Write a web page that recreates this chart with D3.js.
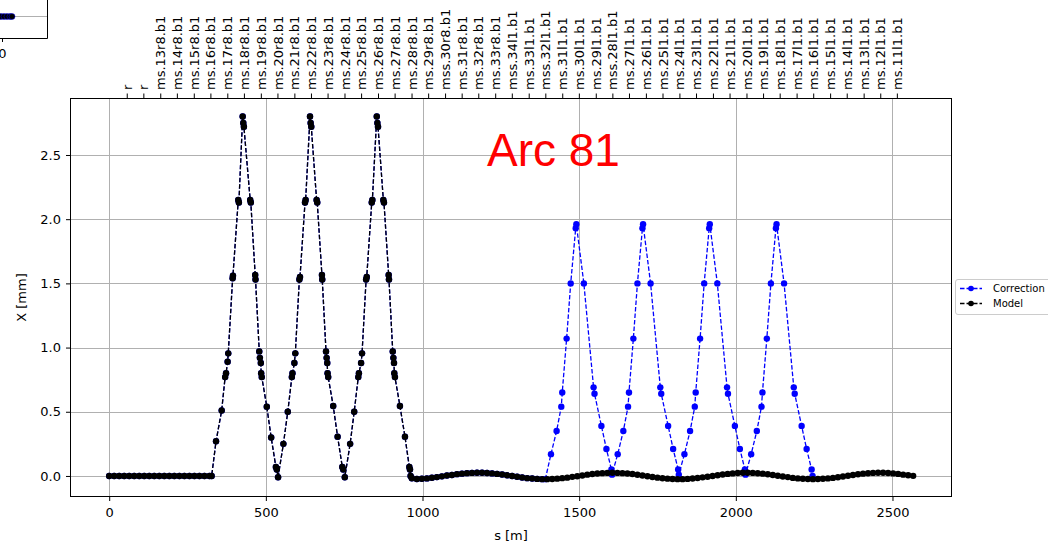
<!DOCTYPE html>
<html><head><meta charset="utf-8">
<script src="https://cdn.jsdelivr.net/npm/d3@7"></script>
<style>
body{margin:0;background:#fff;overflow:hidden}
text{font-family:"DejaVu Sans",sans-serif;fill:#000}
</style>
</head><body>
<svg id="c" width="1048" height="546"></svg>
<script>
// ---------------- data ----------------
const modelS = [0,16,32,48,64,80,96,112,128,144,160,176,192,208,224,240,256,272,288,304,320,327,
 341,359,370,373,378,380,394,395,412,414,426,428,430,450,452,466,467,479,481,484,485,487,503,517,532,535,539,
 556,570,583,585,591,594,607,609,625,627,641,643,645,662,664,679,680,692,694,696,697,699,715,729,744,747,752,
 769,782,795,797,804,807,820,822,838,840,854,856,858,875,877,892,893,905,907,909,910,912,928,944,958,960,962,
 966,982,998,1014,1030,1046,1062,1078,1094,1110,1126,1142,1158,1174,1190,1206,1222,1238,1254,1270,1286,1302,1318,1334,1350,1366,1382,
 1398,1414,1430,1446,1462,1478,1494,1510,1526,1542,1558,1574,1590,1606,1622,1638,1654,1670,1686,1702,1718,1734,1750,1766,1782,1798,1814,
 1830,1846,1862,1878,1894,1910,1926,1942,1958,1974,1990,2006,2022,2038,2054,2070,2086,2102,2118,2134,2150,2166,2182,2198,2214,2230,2246,
 2262,2278,2294,2310,2326,2342,2358,2374,2390,2406,2422,2438,2454,2470,2486,2502,2518,2534,2550,2566];
const modelX = [0,0,0,0,0,0,0,0,0,0,0,0,0,0,0,0,0,0,0,0,0,0,
 0.27,0.51,0.77,0.80,0.89,0.955,1.54,1.56,2.15,2.13,2.80,2.75,2.72,2.15,2.13,1.565,1.53,0.97,0.92,0.88,0.80,0.77,0.54,0.30,0.07,0.05,-0.01,
 0.25,0.50,0.77,0.80,0.88,0.955,1.53,1.55,2.13,2.15,2.80,2.75,2.72,2.15,2.13,1.565,1.53,0.97,0.92,0.88,0.80,0.77,0.545,0.306,0.07,0.05,-0.01,
 0.25,0.50,0.77,0.80,0.88,0.955,1.53,1.55,2.13,2.15,2.80,2.75,2.72,2.15,2.13,1.565,1.53,0.97,0.92,0.88,0.80,0.77,0.545,0.306,0.07,0.05,0.0,
 -0.018,-0.024,-0.022,-0.019,-0.014,-0.009,-0.003,0.003,0.008,0.014,0.018,0.022,0.024,0.025,0.025,0.023,0.020,0.016,0.011,0.005,0.000,-0.006,-0.012,-0.017,-0.020,-0.023,-0.025,
 -0.025,-0.024,-0.021,-0.017,-0.013,-0.007,-0.002,0.004,0.010,0.015,0.019,0.022,0.024,0.025,0.024,0.022,0.019,0.015,0.009,0.004,-0.002,-0.008,-0.013,-0.018,-0.021,-0.024,-0.025,
 -0.025,-0.023,-0.020,-0.016,-0.011,-0.006,0.000,0.006,0.011,0.016,0.020,0.023,0.025,0.025,0.024,0.021,0.018,0.013,0.008,0.002,-0.004,-0.009,-0.015,-0.019,-0.022,-0.024,-0.025,
 -0.024,-0.022,-0.019,-0.015,-0.010,-0.004,0.002,0.008,0.013,0.018,0.021,0.024,0.025,0.025,0.023,0.020,0.016,0.010,0.005,0.001];

const corrS = [1392,1410,1428,1443,1446,1460,1473,1489,1491,1515,1546,1549,1571,1587,1603,1605,
 1623,1641,1656,1659,1673,1686,1702,1704,1728,1759,1762,1784,1800,1816,1818,
 1836,1854,1869,1872,1886,1899,1915,1917,1941,1972,1975,1997,2013,2029,2031,
 2049,2067,2082,2085,2099,2112,2128,2130,2154,2185,2188,2210,2226,2242,2245];
const corrX = [-0.025,0.17,0.35,0.54,0.65,1.07,1.50,1.93,1.96,1.50,0.69,0.64,0.39,0.21,0.05,0.01,
 0.17,0.35,0.54,0.65,1.07,1.50,1.93,1.96,1.50,0.69,0.64,0.39,0.21,0.05,0.01,
 0.17,0.35,0.54,0.65,1.07,1.50,1.93,1.96,1.50,0.69,0.64,0.39,0.21,0.05,0.01,
 0.17,0.35,0.54,0.65,1.07,1.50,1.93,1.96,1.50,0.69,0.64,0.39,0.21,0.05,0.0];

const bpmS = [56,109,163,216,270,323,377,430,484,537,591,644,697,751,804,858,911,965,1018,1072,1125,1178,1232,1285,
 1339,1392,1446,1499,1553,1606,1659,1713,1766,1820,1873,1927,1980,2034,2087,2140,2194,2247,2301,2354,2408,2461,2514];
const bpmLabels = ["r","r","ms.13r8.b1","ms.14r8.b1","ms.15r8.b1","ms.16r8.b1","ms.17r8.b1","ms.18r8.b1","ms.19r8.b1",
 "ms.20r8.b1","ms.21r8.b1","ms.22r8.b1","ms.23r8.b1","ms.24r8.b1","ms.25r8.b1","ms.26r8.b1","ms.27r8.b1","ms.28r8.b1",
 "ms.29r8.b1","mss.30r8.b1","ms.31r8.b1","ms.32r8.b1","ms.33r8.b1","mss.34l1.b1","ms.33l1.b1","mss.32l1.b1","ms.31l1.b1",
 "ms.30l1.b1","ms.29l1.b1","mss.28l1.b1","ms.27l1.b1","ms.26l1.b1","ms.25l1.b1","ms.24l1.b1","ms.23l1.b1","ms.22l1.b1",
 "ms.21l1.b1","ms.20l1.b1","ms.19l1.b1","ms.18l1.b1","ms.17l1.b1","ms.16l1.b1","ms.15l1.b1","ms.14l1.b1","ms.13l1.b1",
 "ms.12l1.b1","ms.11l1.b1"];
const xTicks = [0,500,1000,1500,2000,2500];
const yTicks = [0.0,0.5,1.0,1.5,2.0,2.5];
const seriesNames = ["Correction","Model"];
const seriesColors = ["#0000ff","#000000"];
const titleText = "Arc 81";

// ---------------- layout ----------------
const L = 70.5, R = 951.5, T = 98.5, B = 496.5;
const x = d3.scaleLinear().domain([-123.5, 2688.4]).range([L, R]);
const y = d3.scaleLinear().domain([-0.160, 2.940]).range([B, T]);
const svg = d3.select("#c");

// gridlines
const grid = svg.append("g");
grid.selectAll(".gx").data(xTicks).enter().append("line")
  .attr("x1", d => Math.round(x(d)) + 0.5).attr("x2", d => Math.round(x(d)) + 0.5)
  .attr("y1", T).attr("y2", B).attr("stroke", "#b0b0b0").attr("stroke-width", 1);
grid.selectAll(".gy").data(yTicks).enter().append("line")
  .attr("y1", d => Math.round(y(d)) + 0.5).attr("y2", d => Math.round(y(d)) + 0.5)
  .attr("x1", L).attr("x2", R).attr("stroke", "#b0b0b0").attr("stroke-width", 1);

// series
const corrPts = modelS.map((s, i) => [s, modelX[i]]).filter(p => p[0] < corrS[0])
  .concat(corrS.map((s, i) => [s, corrX[i]]));
const modelPts = modelS.map((s, i) => [s, modelX[i]]);
const line = d3.line().x(d => x(d[0])).y(d => y(d[1]));
[[corrPts, seriesColors[0]], [modelPts, seriesColors[1]]].forEach(([pts, col]) => {
  const g = svg.append("g");
  g.append("path").attr("d", line(pts)).attr("fill", "none").attr("stroke", col)
    .attr("stroke-width", 1.3).attr("stroke-dasharray", "4.5,2");
  g.selectAll("circle").data(pts).enter().append("circle")
    .attr("cx", d => x(d[0])).attr("cy", d => y(d[1])).attr("r", 3.2).attr("fill", col);
});

// frame
svg.append("rect").attr("x", L).attr("y", T).attr("width", R - L).attr("height", B - T)
  .attr("fill", "none").attr("stroke", "#000").attr("stroke-width", 1);

// bottom axis
const bx = svg.append("g").attr("transform", `translate(0,${B})`)
  .call(d3.axisBottom(x).tickValues(xTicks).tickSize(4.5).tickPadding(7).tickFormat(d3.format("d")));
// left axis
const ly = svg.append("g").attr("transform", `translate(${L},0)`)
  .call(d3.axisLeft(y).tickValues(yTicks).tickSize(4.5).tickPadding(5).tickFormat(d3.format(".1f")));
// top axis (BPM names)
const tx = svg.append("g").attr("transform", `translate(0,${T})`)
  .call(d3.axisTop(x).tickValues(bpmS).tickSize(5).tickPadding(3.5).tickFormat((d, i) => bpmLabels[i]));
tx.selectAll("text").attr("transform", "rotate(-90)").attr("text-anchor", "start")
  .attr("x", 8.5).attr("y", 0).attr("dy", "0.35em");
[bx, ly, tx].forEach(g => {
  g.select(".domain").remove();
  g.selectAll("text").attr("font-size", 13).attr("font-family", "DejaVu Sans, sans-serif").attr("fill", "#000");
  g.selectAll("line").attr("stroke", "#000").attr("stroke-width", 1);
});

// axis labels
svg.append("text").attr("x", (L + R) / 2).attr("y", 540).attr("text-anchor", "middle")
  .attr("font-size", 13).text("s [m]");
svg.append("text").attr("transform", `translate(26,${(T + B) / 2}) rotate(-90)`)
  .attr("text-anchor", "middle").attr("font-size", 13).text("X [mm]");

// annotation
svg.append("text").attr("x", 487).attr("y", 166).attr("fill", "#ff0000")
  .style("fill", "#ff0000").attr("font-size", 46).style("font-family", "'Liberation Sans', Arial, sans-serif")
  .text(titleText);

// legend
const lg = svg.append("g");
lg.append("rect").attr("x", 955.5).attr("y", 279.5).attr("width", 110).attr("height", 35).attr("rx", 2.5)
  .attr("fill", "#fff").attr("fill-opacity", 0.8).attr("stroke", "#cccccc");
seriesNames.forEach((nm, i) => {
  const yy = 288.5 + i * 15;
  lg.append("line").attr("x1", 960).attr("x2", 982).attr("y1", yy).attr("y2", yy)
    .attr("stroke", seriesColors[i]).attr("stroke-width", 1.3).attr("stroke-dasharray", "4.5,2");
  lg.append("circle").attr("cx", 971).attr("cy", yy).attr("r", 2.8).attr("fill", seriesColors[i]);
  lg.append("text").attr("x", 993).attr("y", yy).attr("dy", "0.35em").attr("font-size", 10).text(nm);
});

// fragment of neighbouring panel at top-left
const fr = svg.append("g");
fr.append("line").attr("x1", 0).attr("x2", 47.5).attr("y1", 16.5).attr("y2", 16.5).attr("stroke", "#b0b0b0");
fr.selectAll("circle").data([1, 4, 7, 10, 12]).enter().append("circle")
  .attr("cx", d => d).attr("cy", 16.5).attr("r", 3).attr("fill", "#000").attr("stroke", "#0000ff").attr("stroke-width", 0.5);
fr.append("path").attr("d", "M47.5,0V38.5H0").attr("fill", "none").attr("stroke", "#000");
fr.append("line").attr("x1", 2.5).attr("x2", 2.5).attr("y1", 38.5).attr("y2", 42).attr("stroke", "#000");
fr.append("text").attr("x", 2.5).attr("y", 58).attr("text-anchor", "middle").attr("font-size", 13).text("0");
</script>
</body></html>
